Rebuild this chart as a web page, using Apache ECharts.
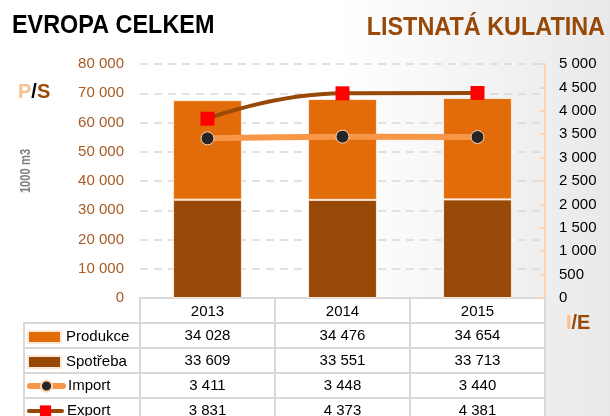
<!DOCTYPE html>
<html>
<head>
<meta charset="utf-8">
<script src="https://cdn.jsdelivr.net/npm/echarts@6/dist/echarts.min.js"></script>
<style>
  html, body { margin: 0; padding: 0; }
  #main { width: 610px; height: 416px; }
</style>
</head>
<body>
<div id="main"></div>
<script>
var years = ['2013', '2014', '2015']
var produkce = [34028, 34476, 34654]
var spotreba = [33609, 33551, 33713]
var importData = [3411, 3448, 3440]
var exportData = [3831, 4373, 4381]
var seriesNames = ['Produkce', 'Spotřeba', 'Import', 'Export']

var FONT = '"Liberation Sans", Arial, sans-serif'
var GRID_L = 140, GRID_R = 545, GRID_T = 64, GRID_B = 298
var ROW_H = 25

// mezery jako oddělovač tisíců
function fmt(v) {
  return String(v).replace(/\B(?=(\d{3})+(?!\d))/g, ' ')
}

var chart = echarts.init(document.getElementById('main'))

// jedna legenda na každý řádek tabulky
function legendRow(i) {
  var item = { name: seriesNames[i] }
  var h = 12
  if (i < 2) {
    item.icon = 'rect'
  } else {
    h = 14
    item.lineStyle = { width: i == 2 ? 6 : 4, cap: 'round' }
  }
  return {
    orient: 'vertical',
    left: 27,
    top: GRID_B + ROW_H * (i + 1.5) - h / 2,
    padding: 0,
    itemWidth: 33,
    itemHeight: h,
    textStyle: { fontSize: 15, color: '#000', fontFamily: FONT },
    data: [item]
  }
}

function buildOption() {
  return {
    backgroundColor: new echarts.graphic.LinearGradient(0, 0, 1, 0, [
      { offset: 0, color: '#ffffff' },
      { offset: 0.55, color: '#ffffff' },
      { offset: 1, color: '#e9e9e9' }
    ]),
    textStyle: { fontFamily: FONT },
    animation: false,
    grid: { left: GRID_L, right: 610 - GRID_R, top: GRID_T, bottom: 416 - GRID_B },
    legend: [legendRow(0), legendRow(1), legendRow(2), legendRow(3)],
    xAxis: {
      type: 'category',
      data: years,
      axisLine: { lineStyle: { color: '#d9d9d9', width: 2 } },
      axisTick: { show: true, length: 120, lineStyle: { color: '#d9d9d9', width: 2 } },
      axisLabel: { fontSize: 15, color: '#000', margin: 6 }
    },
    yAxis: [
      {
        type: 'value', min: 0, max: 80000, interval: 10000,
        axisLine: { show: false },
        axisTick: { show: false },
        axisLabel: { fontSize: 15, color: '#a85a22', margin: 16, formatter: fmt },
        splitLine: { lineStyle: { color: '#d9d9d9', type: [8, 6], width: 1.5 } }
      },
      {
        type: 'value', min: 0, max: 5000, interval: 500,
        axisLine: { show: true, lineStyle: { color: '#fcd5b5', width: 2 } },
        axisTick: { show: true, inside: true, length: 5, lineStyle: { color: '#fcd5b5', width: 2 } },
        axisLabel: { fontSize: 15, color: '#000', margin: 14, formatter: fmt },
        splitLine: { show: false }
      }
    ],
    series: [
      {
        name: seriesNames[1], type: 'bar', stack: 'ps', data: spotreba, barWidth: '51%',
        itemStyle: { color: '#984807', borderColor: '#fde9d9', borderWidth: 1 }
      },
      {
        name: seriesNames[0], type: 'bar', stack: 'ps', data: produkce, barWidth: '51%',
        itemStyle: { color: '#e36c0a', borderColor: '#fde9d9', borderWidth: 1 }
      },
      {
        name: seriesNames[2], type: 'line', yAxisIndex: 1, data: importData,
        smooth: 0.5, symbol: 'circle', symbolSize: 13,
        lineStyle: { color: '#f79646', width: 6, cap: 'round' },
        itemStyle: { color: '#262626', borderColor: '#fcd5b5', borderWidth: 1 }
      },
      {
        name: seriesNames[3], type: 'line', yAxisIndex: 1, data: exportData,
        smooth: 0.5, symbol: 'rect', symbolSize: 14,
        lineStyle: { color: '#984807', width: 4 },
        itemStyle: { color: '#ff0000' }
      }
    ]
  }
}

chart.setOption(buildOption())

// tabulka pod grafem, nadpisy a popisky os
function buildTable() {
  var rows = [produkce, spotreba, importData, exportData]
  var els = []
  var lineStyle = { stroke: '#d9d9d9', lineWidth: 2 }
  els.push({
    type: 'rect', z: -10, silent: true,
    shape: { x: 23, y: GRID_B, width: GRID_R - 23, height: 416 - GRID_B },
    style: { fill: '#ffffff' }
  })
  for (var r = 0; r < rows.length; r++) {
    var y = GRID_B + ROW_H * (r + 1)
    els.push({ type: 'line', shape: { x1: 23, y1: y, x2: GRID_R, y2: y }, style: lineStyle, silent: true })
  }
  els.push({ type: 'line', shape: { x1: 24, y1: GRID_B + ROW_H, x2: 24, y2: 416 }, style: lineStyle, silent: true })
  rows.forEach(function (vals, r) {
    vals.forEach(function (v, i) {
      var x = chart.convertToPixel({ xAxisIndex: 0 }, i)
      els.push({
        type: 'text', x: x, y: GRID_B + ROW_H * (r + 1.5),
        style: { text: fmt(v), fontSize: 15, fill: '#000', fontFamily: FONT, align: 'center', verticalAlign: 'middle' },
        silent: true
      })
    })
  })
  els.push({
    type: 'text', x: 12, y: 26, scaleX: 0.9,
    style: { text: 'EVROPA CELKEM', fontSize: 26, fontWeight: 'bold', fill: '#000', fontFamily: FONT, verticalAlign: 'middle' }
  })
  els.push({
    type: 'text', x: 605, y: 28, scaleX: 0.9,
    style: { text: 'LISTNATÁ KULATINA', fontSize: 26, fontWeight: 'bold', fill: '#984807', fontFamily: FONT, align: 'right', verticalAlign: 'middle' }
  })
  els.push({
    type: 'text', x: 18, y: 92,
    style: {
      text: '{p|P}{s|/}{e|S}', verticalAlign: 'middle',
      rich: {
        p: { fontSize: 20, fontWeight: 'bold', fill: '#fac090', fontFamily: FONT },
        s: { fontSize: 20, fontWeight: 'bold', fill: '#000', fontFamily: FONT },
        e: { fontSize: 20, fontWeight: 'bold', fill: '#984807', fontFamily: FONT }
      }
    }
  })
  els.push({
    type: 'text', x: 566, y: 323,
    style: {
      text: '{p|I}{e|/E}', verticalAlign: 'middle',
      rich: {
        p: { fontSize: 20, fontWeight: 'bold', fill: '#fac090', fontFamily: FONT },
        e: { fontSize: 20, fontWeight: 'bold', fill: '#984807', fontFamily: FONT }
      }
    }
  })
  els.push({
    type: 'text', x: 26, y: 171, rotation: Math.PI / 2, scaleX: 0.8,
    style: { text: '1000 m3', fontSize: 14, fontWeight: 'bold', fill: '#808080', fontFamily: FONT, align: 'center', verticalAlign: 'middle' }
  })
  chart.setOption({ graphic: { elements: els } })
}
buildTable()
</script>
</body>
</html>
